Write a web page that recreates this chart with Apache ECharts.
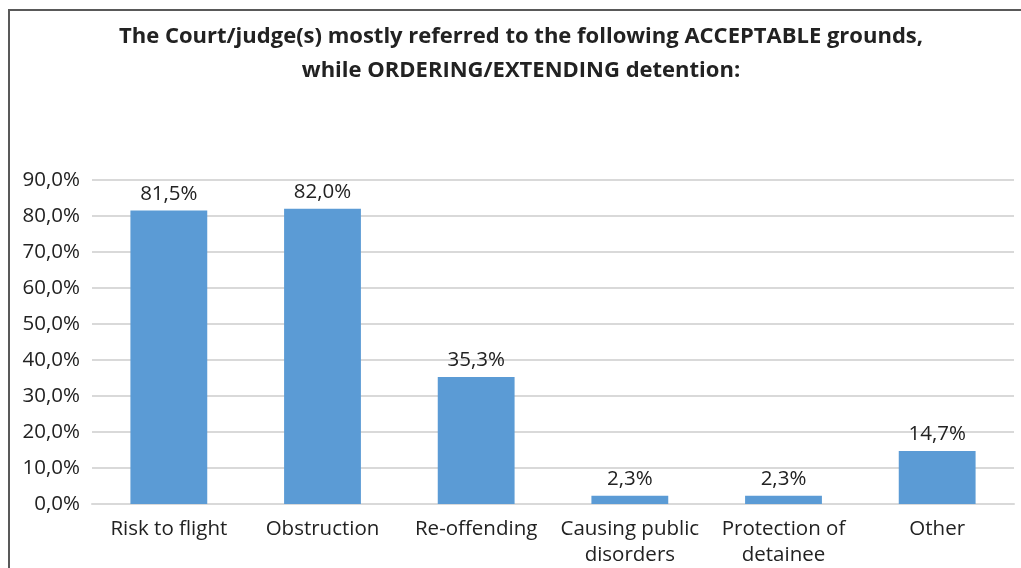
<!DOCTYPE html>
<html><head><meta charset="utf-8">
<script src="https://cdn.jsdelivr.net/npm/echarts@6/dist/echarts.min.js"></script>
<style>html,body{margin:0;padding:0;background:#fff}#c{width:1021px;height:568px}</style>
</head><body><div id="c"></div>
<script>
const categories = ['Risk to flight','Obstruction','Re-offending','Causing public\ndisorders','Protection of\ndetainee','Other'];
const values = [81.5, 82.0, 35.3, 2.3, 2.3, 14.7];
const titleLines = ['The Court/judge(s) mostly referred to the following ACCEPTABLE grounds,', 'while ORDERING/EXTENDING detention:'];
const fmt = v => v.toFixed(1).replace('.', ',') + '%';
const chart = echarts.init(document.getElementById('c'));
chart.setOption({
  animation: false,
  graphic: [{type:'rect', shape:{x:9, y:10, width:1100, height:700}, style:{fill:'none', stroke:'#595959', lineWidth:2}, silent:true}],
  title: {text: titleLines.join('\n'), left: 516, textAlign: 'center', top: 15,
    textStyle: {fontFamily: 'Open Sans', fontWeight: 'bold', fontSize: 22, color: '#222', lineHeight: 34}},
  grid: {left: 92, right: 7, top: 180, bottom: 64},
  xAxis: {type: 'category', data: categories,
    axisLine: {lineStyle: {color: '#d9d9d9', width: 2}}, axisTick: {show: false},
    axisLabel: {fontFamily: 'Open Sans', fontSize: 20.5, color: '#222', lineHeight: 26, margin: 12, interval: 0}},
  yAxis: {type: 'value', min: 0, max: 90, interval: 10,
    axisLine: {show: false}, axisTick: {show: false},
    splitLine: {lineStyle: {color: '#d9d9d9', width: 2}},
    axisLabel: {fontFamily: 'Open Sans', fontSize: 20.5, color: '#222', margin: 12, formatter: v => fmt(v)}},
  series: [{type: 'bar', data: values, barWidth: '50%', itemStyle: {color: '#5b9bd5'},
    label: {show: true, position: 'top', distance: 6, fontFamily: 'Open Sans', fontSize: 20.5, color: '#222', formatter: p => fmt(p.value)}}]
});
</script></body></html>
